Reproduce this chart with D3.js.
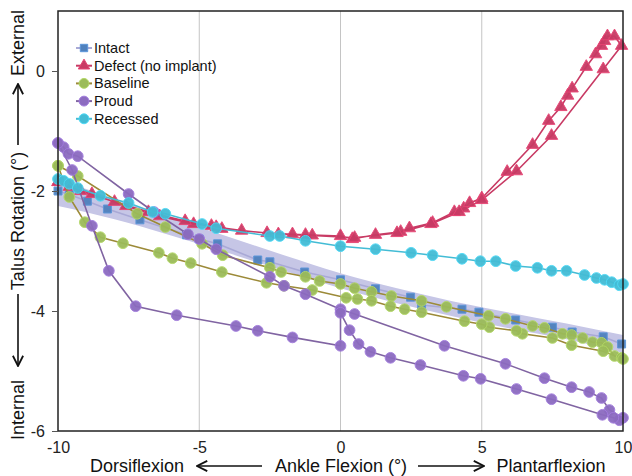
<!DOCTYPE html>
<html>
<head>
<meta charset="utf-8">
<script src="https://cdn.jsdelivr.net/npm/d3@7"></script>
<style>
  body { margin: 0; background: #fff; }
  svg { font-family: "Liberation Sans", Arial, sans-serif; }
</style>
</head>
<body>
<div id="chart"></div>
<script>
var W = 632, H = 476;

// axis ticks
var xTicks = [-10, -5, 0, 5, 10];
var yTicks = [0, -2, -4, -6];
var xGrid = [-5, 0, 5];

// series names (legend order)
var seriesNames = ["Intact", "Defect (no implant)", "Baseline", "Proud", "Recessed"];

// intact shaded band (range)
var bandX      = [-10, -8, -6, -4, -2, 0, 2, 4, 6, 8, 10];
var bandTop    = [-1.80, -2.13, -2.45, -2.76, -3.07, -3.37, -3.62, -3.84, -4.03, -4.21, -4.40];
var bandBottom = [-2.25, -2.47, -2.74, -3.03, -3.33, -3.62, -3.87, -4.09, -4.29, -4.47, -4.70];

// flexion angle / talus rotation pairs, in recorded order
var intactPts = [[-10,-2.0],[-9.6,-2.06],[-8.96,-2.17],[-8.25,-2.3],[-7.1,-2.48],[-5.45,-2.73],[-5.0,-2.8],
  [-4.35,-2.88],[-2.93,-3.15],[-2.5,-3.18],[-1.27,-3.35],[0,-3.48],[1.24,-3.63],[2.48,-3.77],[2.87,-3.9],
  [4.3,-3.97],[4.9,-4.02],[6.2,-4.15],[7.5,-4.27],[8.2,-4.35],[9.3,-4.43],[9.95,-4.55]];

var defectPts = [[-10,-1.85],[-9.6,-1.93],[-8.8,-2.05],[-7.6,-2.25],[-6.4,-2.42],[-5.2,-2.55],[-4.57,-2.58],
  [-4.2,-2.63],[-2.6,-2.7],[-1.7,-2.72],[-1.24,-2.73],[0,-2.75],[0.42,-2.8],[1.24,-2.73],[2.13,-2.68],
  [2.44,-2.62],[3.26,-2.53],[4.03,-2.35],[4.36,-2.29],[4.57,-2.2],[5.0,-2.12],[5.9,-1.68],[6.8,-1.23],
  [7.37,-0.83],[7.8,-0.6],[8.04,-0.41],[8.2,-0.29],[8.7,0.07],[9.03,0.28],[9.24,0.42],[9.35,0.5],
  [9.45,0.58],[9.7,0.58],[9.95,0.42],[9.3,0.03],[7.47,-1.08],[6.23,-1.67],[5.0,-2.15],[4.2,-2.35],
  [3.2,-2.55],[2.0,-2.7],[0.5,-2.78],[-1.0,-2.74],[-2.2,-2.72],[-3.5,-2.66],[-4.4,-2.6],[-5.5,-2.5],
  [-6.8,-2.35],[-8.0,-2.18],[-9.2,-2.0],[-10,-1.85]];

var baselinePts = [[-10,-1.58],[-9.3,-1.75],[-7.2,-2.38],[-6.2,-2.6],[-4.9,-2.88],[-4.17,-3.07],[-2.5,-3.28],
  [-2.1,-3.35],[-1.24,-3.43],[-0.74,-3.5],[0,-3.55],[0.5,-3.62],[1.1,-3.68],[1.8,-3.75],[2.87,-3.83],
  [3.75,-3.93],[5.24,-4.08],[5.84,-4.13],[6.8,-4.25],[7.22,-4.28],[7.86,-4.38],[8.18,-4.4],[8.57,-4.45],
  [8.92,-4.52],[9.24,-4.53],[9.45,-4.6],[9.7,-4.75],[9.95,-4.78],[10,-4.8],[9.3,-4.67],[8.18,-4.57],
  [7.5,-4.45],[6.44,-4.38],[6.23,-4.33],[5.27,-4.27],[5.0,-4.22],[4.39,-4.17],[2.87,-4.02],[2.27,-3.97],
  [1.77,-3.92],[1.1,-3.83],[0.6,-3.8],[0.2,-3.78],[-1.0,-3.65],[-2.0,-3.58],[-2.62,-3.53],[-4.2,-3.35],
  [-5.3,-3.2],[-5.95,-3.12],[-6.43,-3.03],[-7.7,-2.87],[-8.5,-2.77],[-9.05,-2.52],[-9.6,-2.1],[-10,-1.58]];

var proudPts = [[-10,-1.2],[-9.8,-1.27],[-9.63,-1.38],[-9.3,-1.42],[-7.5,-2.05],[-6.6,-2.35],[-5.4,-2.72],
  [-5.0,-2.8],[-4.4,-2.97],[-2.5,-3.43],[-2.0,-3.58],[-1.24,-3.72],[0,-3.97],[0.5,-4.05],[3.68,-4.58],
  [5.84,-4.88],[7.22,-5.12],[8.18,-5.27],[8.8,-5.35],[9.24,-5.45],[9.52,-5.65],[10,-5.78],[9.87,-5.82],
  [9.66,-5.78],[9.27,-5.73],[7.47,-5.47],[6.23,-5.3],[4.96,-5.13],[4.35,-5.08],[2.83,-4.9],[1.77,-4.78],
  [1.06,-4.68],[0.64,-4.55],[0.32,-4.32],[0,-4.03],[0,-4.58],[-1.7,-4.44],[-2.93,-4.33],[-3.7,-4.25],
  [-5.8,-4.07],[-7.25,-3.92],[-8.2,-3.33],[-8.8,-2.58],[-9.5,-1.65],[-10,-1.2]];

var recessedPts = [[-10,-1.8],[-9.8,-1.83],[-9.6,-1.88],[-9.3,-1.95],[-8.5,-2.08],[-7.5,-2.2],[-6.65,-2.35],
  [-6.2,-2.38],[-4.9,-2.55],[-4.4,-2.62],[-2.5,-2.75],[-2.15,-2.75],[-1.24,-2.83],[0,-2.92],[1.24,-2.97],
  [2.5,-3.03],[3.26,-3.07],[4.3,-3.13],[4.95,-3.17],[5.5,-3.17],[6.2,-3.25],[6.97,-3.28],[7.47,-3.33],
  [8.0,-3.33],[8.64,-3.4],[9.06,-3.45],[9.35,-3.48],[9.6,-3.52],[9.87,-3.57],[10,-3.55]];

//COLOURS
var COL_BAND = "#c6c6e6";
var COL_INTACT_LINE = "#a9a9d6", COL_INTACT = "#4f81bd";
var COL_DEFECT = "#c83a64";
var COL_BASE_LINE = "#9c8a38", COL_BASE = "#9bbb59";
var COL_PROUD_LINE = "#8064a2", COL_PROUD = "#8c6bc0";
var COL_REC = "#43bcd5";

var series = [
  { name: seriesNames[0], pts: intactPts,   line: COL_INTACT_LINE, fill: COL_INTACT, sym: d3.symbolSquare,   size: 64 },
  { name: seriesNames[1], pts: defectPts,   line: COL_DEFECT,      fill: COL_DEFECT, sym: d3.symbolTriangle, size: 66 },
  { name: seriesNames[2], pts: baselinePts, line: COL_BASE_LINE,   fill: COL_BASE,   sym: d3.symbolCircle,   size: 90 },
  { name: seriesNames[3], pts: proudPts,    line: COL_PROUD_LINE,  fill: COL_PROUD,  sym: d3.symbolCircle,   size: 90 },
  { name: seriesNames[4], pts: recessedPts, line: COL_REC,         fill: COL_REC,    sym: d3.symbolCircle,   size: 90 }
];

var svg = d3.select("#chart").append("svg").attr("width", W).attr("height", H);

var x = d3.scaleLinear().domain([-10, 10]).range([58, 623]);
var y = d3.scaleLinear().domain([-6, 1]).range([431, 11]);

// gridlines
svg.append("g").selectAll("line").data(xGrid).enter().append("line")
  .attr("x1", function(d) { return x(d); }).attr("x2", function(d) { return x(d); })
  .attr("y1", y(1)).attr("y2", y(-6))
  .attr("stroke", "#c4c4c4").attr("stroke-width", 1);

// shaded band
var bandData = bandX.map(function(v, i) { return { x: v, t: bandTop[i], b: bandBottom[i] }; });
svg.append("path").datum(bandData)
  .attr("fill", COL_BAND)
  .attr("d", d3.area().curve(d3.curveMonotoneX)
    .x(function(d) { return x(d.x); })
    .y0(function(d) { return y(d.b); })
    .y1(function(d) { return y(d.t); }));

// series
var line = d3.line().x(function(d) { return x(d[0]); }).y(function(d) { return y(d[1]); });
series.forEach(function(s) {
  var g = svg.append("g");
  g.append("path").datum(s.pts)
    .attr("fill", "none").attr("stroke", s.line).attr("stroke-width", 1.6)
    .attr("d", line);
  g.selectAll("path.m").data(s.pts).enter().append("path")
    .attr("class", "m")
    .attr("transform", function(d) { return "translate(" + x(d[0]) + "," + y(d[1]) + ")"; })
    .attr("d", d3.symbol().type(s.sym).size(s.size))
    .attr("fill", s.fill)
    .attr("stroke", d3.color(s.fill).brighter(0.4))
    .attr("stroke-width", 1)
    .attr("opacity", 0.95);
});

// frame
svg.append("rect")
  .attr("x", x(-10)).attr("y", y(1))
  .attr("width", x(10) - x(-10)).attr("height", y(-6) - y(1))
  .attr("fill", "none").attr("stroke", "#222").attr("stroke-width", 1.5);

// y axis
var yAxis = svg.append("g").attr("transform", "translate(" + x(-10) + ",0)")
  .call(d3.axisLeft(y).tickValues(yTicks).tickSize(6).tickPadding(7).tickFormat(d3.format("d")));
yAxis.select(".domain").remove();
yAxis.selectAll("line").attr("stroke", "#555");
yAxis.selectAll("text").attr("font-size", 16).attr("fill", "#222")
  .attr("font-family", "Liberation Sans, Arial, sans-serif").text(function(d) { return d < 0 ? "-" + Math.abs(d) : d; });

// x axis
var xAxis = svg.append("g").attr("transform", "translate(0," + y(-6) + ")")
  .call(d3.axisBottom(x).tickValues(xTicks).tickSize(0).tickPadding(11).tickFormat(d3.format("d")));
xAxis.select(".domain").remove();
xAxis.selectAll("text").attr("font-size", 16).attr("fill", "#222")
  .attr("font-family", "Liberation Sans, Arial, sans-serif").text(function(d) { return d < 0 ? "-" + Math.abs(d) : d; });

// arrow heads
svg.append("defs").append("marker")
  .attr("id", "arr").attr("viewBox", "0 0 10 10").attr("refX", 9).attr("refY", 5)
  .attr("markerWidth", 8).attr("markerHeight", 8).attr("orient", "auto")
  .append("path").attr("d", "M1,1 L9,5 L1,9").attr("fill", "none").attr("stroke", "#111").attr("stroke-width", 1.4);

function arrow(x1, y1, x2, y2) {
  svg.append("line").attr("x1", x1).attr("y1", y1).attr("x2", x2).attr("y2", y2)
    .attr("stroke", "#111").attr("stroke-width", 1.6).attr("marker-end", "url(#arr)");
}

// x title
var tY = 472;
svg.append("text").attr("x", 137).attr("y", tY).attr("text-anchor", "middle").attr("font-size", 18).attr("fill", "#111").text("Dorsiflexion");
svg.append("text").attr("x", 341).attr("y", tY).attr("text-anchor", "middle").attr("font-size", 18).attr("fill", "#111").text("Ankle Flexion (°)");
svg.append("text").attr("x", 551).attr("y", tY).attr("text-anchor", "middle").attr("font-size", 18).attr("fill", "#111").text("Plantarflexion");
arrow(262, 466, 197, 466);
arrow(418, 466, 484, 466);

// y title (rotated)
function yText(cy, s) {
  svg.append("text").attr("transform", "translate(24," + cy + ") rotate(-90)")
    .attr("text-anchor", "middle").attr("font-size", 18).attr("fill", "#111").text(s);
}
yText(43, "External");
yText(221, "Talus Rotation (°)");
yText(410, "Internal");
arrow(18, 145, 18, 84);
arrow(18, 294, 18, 366);

// legend
var leg = svg.append("g");
series.forEach(function(s, i) {
  var ly = 48 + i * 17.7;
  leg.append("line").attr("x1", 76).attr("x2", 92).attr("y1", ly).attr("y2", ly)
    .attr("stroke", s.line).attr("stroke-width", 2);
  leg.append("path").attr("transform", "translate(84," + ly + ")")
    .attr("d", d3.symbol().type(s.sym).size(s.size * 0.85))
    .attr("fill", s.fill).attr("stroke", d3.color(s.fill).brighter(0.4));
  leg.append("text").attr("x", 94).attr("y", ly + 5).attr("font-size", 14.5).attr("fill", "#111").text(s.name);
});
</script>
</body>
</html>
